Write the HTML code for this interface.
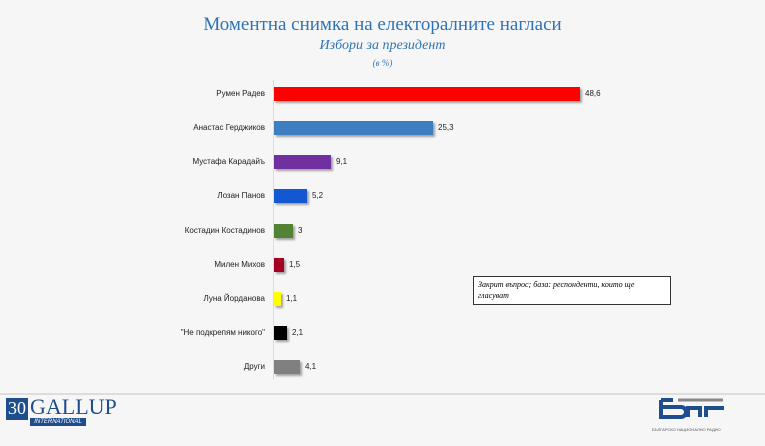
<!DOCTYPE html>
<html><head><meta charset="utf-8"><style>
body{margin:0;width:765px;height:446px;background:#f6f6f6;font-family:"Liberation Sans",sans-serif;position:relative;overflow:hidden}
.t{position:absolute;left:0;width:765px;text-align:center;color:#2e74b5;font-family:"Liberation Serif",serif}
.lbl{position:absolute;right:500px;font-size:8px;color:#222;text-align:right;white-space:nowrap}
.bar{position:absolute;left:274px;height:14px;box-shadow:2px 2px 2px rgba(0,0,0,.35)}
.v{position:absolute;font-size:8px;color:#222}
</style></head><body>
<div class="t" style="top:14px;font-size:19px;">Моментна снимка на електоралните нагласи</div>
<div class="t" style="top:38px;font-size:14px;font-style:italic;">Избори за президент</div>
<div class="t" style="top:58px;font-size:9px;font-style:italic;">(в %)</div>
<div style="position:absolute;left:273px;top:80px;width:1px;height:300px;background:#ddd"></div>

<div class="lbl" style="top:89px">Румен Радев</div><div class="bar" style="top:87px;width:306px;background:#f00"></div><div class="v" style="left:585px;top:89px">48,6</div>
<div class="lbl" style="top:123px">Анастас Герджиков</div><div class="bar" style="top:121px;width:159px;background:#3d7fc1"></div><div class="v" style="left:438px;top:123px">25,3</div>
<div class="lbl" style="top:157px">Мустафа Карадайъ</div><div class="bar" style="top:155px;width:57px;background:#7030a0"></div><div class="v" style="left:336px;top:157px">9,1</div>
<div class="lbl" style="top:191px">Лозан Панов</div><div class="bar" style="top:189px;width:33px;background:#1357d1"></div><div class="v" style="left:312px;top:191px">5,2</div>
<div class="lbl" style="top:226px">Костадин Костадинов</div><div class="bar" style="top:224px;width:19px;background:#548235"></div><div class="v" style="left:298px;top:226px">3</div>
<div class="lbl" style="top:260px">Милен Михов</div><div class="bar" style="top:258px;width:10px;background:#a50021"></div><div class="v" style="left:289px;top:260px">1,5</div>
<div class="lbl" style="top:294px">Луна Йорданова</div><div class="bar" style="top:292px;width:7px;background:#ffff00"></div><div class="v" style="left:286px;top:294px">1,1</div>
<div class="lbl" style="top:328px">"Не подкрепям никого"</div><div class="bar" style="top:326px;width:13px;background:#000"></div><div class="v" style="left:292px;top:328px">2,1</div>
<div class="lbl" style="top:362px">Други</div><div class="bar" style="top:360px;width:26px;background:#808080"></div><div class="v" style="left:305px;top:362px">4,1</div>

<div style="position:absolute;left:473px;top:276px;width:198px;height:29px;border:1px solid #333;background:#fff;font-family:'Liberation Serif',serif;font-style:italic;font-size:8px;padding:2px 4px;box-sizing:border-box;line-height:11px">Закрит въпрос; база: респонденти, които ще гласуват</div>

<div style="position:absolute;left:0;top:393px;width:765px;height:2px;background:#ddd"></div>
<div style="position:absolute;left:6px;top:398px;width:22px;height:22px;background:#1f4e8c;color:#fff;font-family:'Liberation Serif',serif;font-size:18px;text-align:center;line-height:20px">30</div>
<div style="position:absolute;left:30px;top:396px;color:#1f4e8c;font-family:'Liberation Serif',serif;font-size:22px;line-height:22px">GALLUP</div>
<div style="position:absolute;left:30px;top:418px;width:56px;height:8px;background:#1f4e8c;color:#fff;font-size:6px;line-height:8px;text-align:center;font-style:italic">INTERNATIONAL</div>
<svg style="position:absolute;left:658px;top:397px" width="70" height="30"><path d="M3 3h12M3 3v17h20a5 5 0 0 0 0-10h-20" fill="none" stroke="#1f4e8c" stroke-width="4"/><path d="M30 20v-9h12v9M48 20v-9h18" fill="none" stroke="#1f4e8c" stroke-width="4"/><path d="M20 3h45" stroke="#888" stroke-width="3"/></svg>
<div style="position:absolute;left:652px;top:427px;font-size:4px;color:#555">БЪЛГАРСКО НАЦИОНАЛНО РАДИО</div>
</body></html>
